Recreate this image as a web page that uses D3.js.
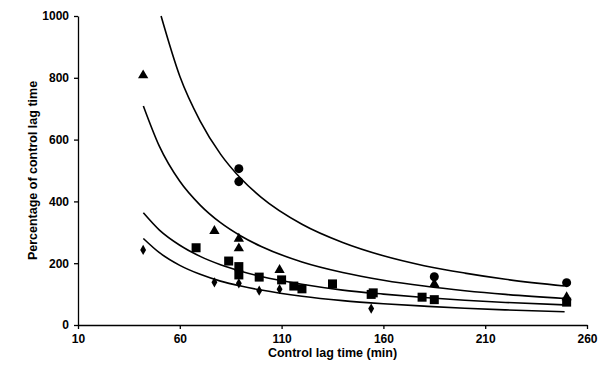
<!DOCTYPE html>
<html>
<head>
<meta charset="utf-8">
<script src="https://cdn.jsdelivr.net/npm/d3@7"></script>
<style>
  body { margin: 0; background: #fff; }
  .axis text { font-family: "Liberation Sans", Arial, sans-serif; font-weight: bold; font-size: 12px; fill: #000; }
  .axis path, .axis line { stroke: #000; stroke-width: 1.3; }
  .label { font-family: "Liberation Sans", Arial, sans-serif; font-weight: bold; font-size: 12.5px; fill: #000; }
</style>
</head>
<body>
<div id="chart"></div>
<script>
// tick values
var xTicks = [10, 60, 110, 160, 210, 260];
var yTicks = [0, 200, 400, 600, 800, 1000];

// data points [control lag time, percentage]
var triangles = [[42, 808], [77, 304], [89, 279], [89, 248], [109, 178], [185, 133], [250, 90]];
var circles = [[89, 506], [89, 464], [185, 156], [250, 137]];
var squares = [[68, 250], [84, 207], [89, 189], [89, 162], [99, 155], [110, 146], [116, 126],
               [120, 117], [135, 133], [154, 99], [155, 104], [179, 90], [185, 82], [250, 74]];
var diamonds = [[42, 243], [77, 138], [89, 135], [99, 111], [109, 116], [154, 53]];

// trend curves
var curve1 = [[50.8, 1000], [60, 805], [70, 660], [80, 553], [90, 474], [100, 413], [120, 326], [140, 267],
              [160, 224], [180, 192], [200, 168], [220, 148], [249, 126]];
var curve2 = [[42.1, 709], [50, 578], [60, 465], [70, 388], [80, 331], [90, 288], [100, 254], [120, 204],
              [140, 170], [160, 145], [180, 126], [200, 111], [220, 99], [249, 86]];
var curve3 = [[42.1, 363], [50, 307], [60, 258], [70, 222], [80, 195], [90, 174], [100, 157], [120, 132],
              [140, 113], [160, 100], [180, 89], [200, 80], [220, 73], [249, 65]];
var curve4 = [[42.1, 280], [50, 234], [60, 193], [70, 164], [80, 142], [90, 126], [100, 113], [120, 93],
              [140, 79], [160, 69], [180, 61], [200, 54], [220, 49], [249, 43]];

var width = 600, height = 370;
var margin = {top: 16, right: 13, bottom: 45, left: 78};

var svg = d3.select("#chart").append("svg")
    .attr("width", width)
    .attr("height", height);

var x = d3.scaleLinear().domain([10, 260]).range([margin.left, width - margin.right]);
var y = d3.scaleLinear().domain([0, 1000]).range([height - margin.bottom, margin.top]);

// axes
svg.append("g")
    .attr("class", "axis")
    .attr("transform", "translate(0," + y(0) + ")")
    .call(d3.axisBottom(x).tickValues(xTicks).tickFormat(d3.format("d")).tickSize(4).tickPadding(5).tickSizeOuter(0));

svg.append("g")
    .attr("class", "axis")
    .attr("transform", "translate(" + x(10) + ",0)")
    .call(d3.axisLeft(y).tickValues(yTicks).tickFormat(d3.format("d")).tickSize(4).tickPadding(5).tickSizeOuter(0));

// axis labels
svg.append("text")
    .attr("class", "label")
    .attr("text-anchor", "middle")
    .attr("x", (x(10) + x(260)) / 2)
    .attr("y", 357)
    .text("Control lag time (min)");

svg.append("text")
    .attr("class", "label")
    .attr("text-anchor", "middle")
    .attr("transform", "translate(37," + (y(0) + y(1000)) / 2 + ") rotate(-90)")
    .text("Percentage of control lag time");

// curves
var line = d3.line()
    .x(function(d) { return x(d[0]); })
    .y(function(d) { return y(d[1]); })
    .curve(d3.curveMonotoneX);

[curve1, curve2, curve3, curve4].forEach(function(c) {
    svg.append("path")
        .datum(c)
        .attr("d", line)
        .attr("fill", "none")
        .attr("stroke", "#000")
        .attr("stroke-width", 1.6);
});

// markers
function drawPoints(data, type, size) {
    svg.selectAll(null)
        .data(data)
        .enter()
        .append("path")
        .attr("d", d3.symbol().type(type).size(size))
        .attr("transform", function(d) { return "translate(" + x(d[0]) + "," + y(d[1]) + ")"; })
        .attr("fill", "#000");
}

drawPoints(triangles, d3.symbolTriangle, 46);
drawPoints(circles, d3.symbolCircle, 64);
drawPoints(squares, d3.symbolSquare, 81);
drawPoints(diamonds, d3.symbolDiamond, 30);
</script>
</body>
</html>
